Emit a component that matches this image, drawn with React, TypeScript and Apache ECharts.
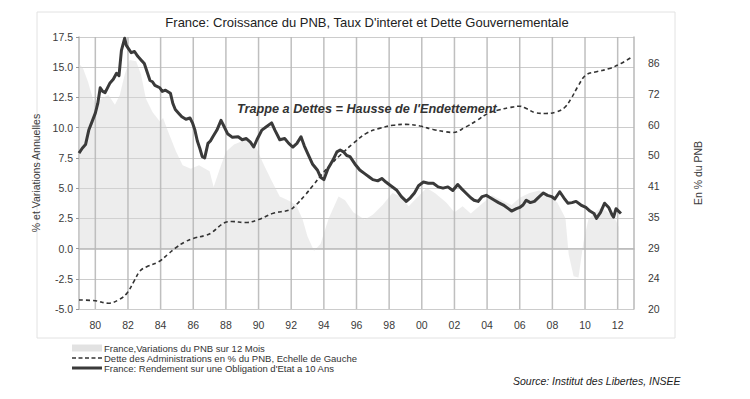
import React, { useEffect, useRef } from 'react';
import * as echarts from 'echarts';

const TITLE = "France: Croissance du PNB, Taux D'interet et Dette Gouvernementale";
const ANNOTATION = "Trappe a Dettes = Hausse de l'Endettement";
const SOURCE = 'Source: Institut des Libertes, INSEE';
const LEFT_NAME = '% et Variations Annuelles';
const RIGHT_NAME = 'En % du PNB';
const GDP_NAME = 'France,Variations du PNB sur 12 Mois';
const DEBT_NAME = 'Dette des Administrations en % du PNB, Echelle de Gauche';
const BOND_NAME = "France: Rendement sur une Obligation d'Etat a 10 Ans";

const xMin = 1979;
const xMax = 2013;
const xGridYears = [1980, 1982, 1984, 1986, 1988, 1990, 1992, 1994, 1996, 1998, 2000, 2002, 2004, 2006, 2008, 2010, 2012];
const leftMin = -5;
const leftMax = 17.5;
const leftStep = 2.5;
const rightTickLabels = [20, 24, 29, 35, 41, 50, 60, 72, 86];

const gdpYears = [1979.0, 1979.25, 1979.55, 1979.85, 1980.05, 1980.35, 1980.8, 1981.2, 1981.5, 1981.8, 1982.1, 1982.5, 1982.8, 1983.1, 1983.5, 1983.95, 1984.15, 1984.45, 1984.95, 1985.35, 1985.85, 1986.35, 1987.0, 1987.25, 1987.6, 1988.0, 1988.5, 1989.2, 1989.8, 1990.3, 1990.8, 1991.3, 1991.8, 1992.3, 1992.7, 1993.0, 1993.4, 1993.8, 1994.3, 1994.9, 1995.3, 1995.8, 1996.5, 1997.0, 1997.6, 1998.2, 1998.7, 1999.2, 1999.7, 2000.3, 2000.8, 2001.5, 2002.0, 2002.5, 2003.0, 2003.6, 2004.3, 2004.9, 2005.5, 2006.0, 2006.6, 2007.2, 2007.8, 2008.3, 2008.8, 2009.0, 2009.3, 2009.6, 2009.9, 2010.2, 2010.6, 2011.0, 2011.5, 2011.9, 2012.05];
const gdpValues = [15.3, 14.9, 13.8, 12.4, 11.9, 12.4, 12.7, 11.9, 12.7, 14.4, 15.6, 15.5, 14.4, 12.4, 11.3, 10.5, 10.8, 9.7, 8.0, 6.9, 6.6, 6.9, 6.4, 5.1, 6.5, 8.0, 8.6, 9.0, 8.5, 7.0, 5.6, 4.3, 4.0, 3.6, 2.4, 1.0, -0.2, 0.4, 2.5, 4.3, 4.0, 3.0, 2.4, 2.8, 3.6, 4.6, 4.3, 3.5, 4.2, 5.0, 4.6, 3.8, 3.0, 3.5, 2.9, 3.6, 4.4, 4.0, 3.6, 4.2, 4.6, 4.8, 4.4, 3.8, 2.5, -0.5, -2.3, -2.4, 0.5, 2.4, 3.0, 3.4, 2.9, 2.3, 1.8];

const bondYears = [1979.0, 1979.2, 1979.4, 1979.6, 1979.8, 1980.0, 1980.15, 1980.3, 1980.45, 1980.6, 1980.9, 1981.1, 1981.3, 1981.45, 1981.6, 1981.8, 1981.9, 1982.0, 1982.2, 1982.4, 1982.6, 1982.8, 1983.0, 1983.2, 1983.35, 1983.5, 1983.65, 1983.95, 1984.1, 1984.3, 1984.6, 1984.75, 1984.9, 1985.1, 1985.3, 1985.55, 1985.8, 1985.95, 1986.1, 1986.25, 1986.4, 1986.55, 1986.7, 1986.9, 1987.05, 1987.2, 1987.45, 1987.7, 1987.85, 1988.1, 1988.4, 1988.75, 1989.0, 1989.25, 1989.5, 1989.7, 1989.9, 1990.2, 1990.5, 1990.8, 1991.0, 1991.3, 1991.6, 1991.85, 1992.1, 1992.35, 1992.6, 1992.8, 1993.0, 1993.3, 1993.6, 1993.8, 1994.0, 1994.25, 1994.55, 1994.8, 1995.0, 1995.2, 1995.4, 1995.6, 1995.9, 1996.2, 1996.5, 1996.8, 1997.0, 1997.3, 1997.55, 1997.8, 1998.1, 1998.45, 1998.75, 1999.05, 1999.3, 1999.55, 1999.8, 2000.1, 2000.4, 2000.7, 2001.0, 2001.3, 2001.6, 2001.9, 2002.2, 2002.4, 2002.7, 2003.0, 2003.2, 2003.45, 2003.7, 2003.95, 2004.2, 2004.45, 2004.7, 2005.0, 2005.3, 2005.5, 2005.8, 2006.0, 2006.2, 2006.4, 2006.65, 2006.9, 2007.2, 2007.45, 2007.7, 2007.95, 2008.15, 2008.45, 2008.7, 2008.95, 2009.2, 2009.45, 2009.75, 2010.05, 2010.3, 2010.55, 2010.7, 2010.95, 2011.2, 2011.45, 2011.65, 2011.75, 2011.9, 2012.05, 2012.2];
const bondValues = [7.9, 8.3, 8.6, 9.8, 10.5, 11.2, 12.0, 13.3, 13.0, 12.9, 13.7, 14.0, 14.5, 14.3, 16.4, 17.4, 16.8, 16.6, 16.2, 16.3, 15.9, 15.6, 15.3, 14.5, 13.9, 13.8, 13.5, 13.3, 13.0, 13.1, 12.85, 12.0, 11.5, 11.2, 10.9, 10.7, 10.8, 10.4, 9.8, 8.9, 8.3, 7.6, 7.5, 8.7, 8.9, 9.25, 9.8, 10.6, 10.2, 9.5, 9.2, 9.25, 9.0, 9.1, 8.8, 8.4, 9.0, 9.8, 10.1, 10.4, 9.8, 9.0, 9.1, 8.7, 8.4, 8.7, 9.25, 8.5, 7.9, 7.0, 6.5, 5.9, 5.7, 6.6, 7.3, 8.0, 8.15, 8.0, 7.7, 7.6, 7.0, 6.5, 6.2, 5.9, 5.7, 5.6, 5.8, 5.5, 5.2, 4.85, 4.3, 3.9, 4.2, 4.6, 5.2, 5.5, 5.4, 5.4, 5.1, 5.0, 5.1, 4.8, 5.3, 5.0, 4.6, 4.2, 4.0, 3.9, 4.3, 4.4, 4.2, 4.0, 3.8, 3.6, 3.3, 3.1, 3.3, 3.4, 3.6, 4.0, 3.8, 3.9, 4.3, 4.6, 4.4, 4.3, 4.1, 4.7, 4.2, 3.75, 3.8, 3.9, 3.6, 3.4, 3.1, 2.9, 2.5, 3.0, 3.75, 3.4, 2.8, 2.6, 3.3, 3.1, 2.9];

const debtYears = [1979.0, 1980.0, 1980.8, 1981.5, 1981.95, 1982.35, 1982.75, 1983.15, 1983.9, 1984.5, 1984.9, 1985.5, 1986.0, 1986.8, 1987.1, 1987.95, 1988.35, 1989.2, 1990.0, 1990.9, 1991.9, 1992.3, 1992.85, 1993.35, 1993.85, 1994.4, 1995.0, 1995.8, 1996.6, 1997.4, 1998.25, 1999.05, 1999.9, 2000.7, 2001.5, 2001.9, 2002.7, 2003.35, 2004.05, 2004.7, 2005.4, 2006.0, 2006.4, 2007.0, 2007.6, 2008.25, 2008.75, 2009.15, 2009.55, 2010.05, 2010.7, 2011.5, 2012.2, 2012.9];
const debtValues = [21.1, 21.0, 20.7, 21.2, 22.0, 23.5, 25.1, 25.7, 26.5, 27.8, 28.7, 29.8, 30.4, 31.0, 31.4, 33.4, 33.6, 33.4, 34.0, 35.3, 36.0, 37.1, 39.3, 41.7, 44.3, 47.0, 49.8, 53.4, 56.7, 58.4, 59.5, 59.8, 59.2, 58.0, 57.2, 57.0, 58.9, 61.1, 63.8, 65.1, 66.1, 66.6, 65.7, 64.0, 63.8, 64.4, 66.1, 69.7, 74.7, 80.1, 81.7, 83.3, 85.8, 89.3];

const FONT = "'Liberation Sans', Arial, sans-serif";
const RIGHT_BASE = rightTickLabels[0];
const RIGHT_RATIO = 1.2;
const toRight = (d: number) => Math.log(d / RIGHT_BASE) / Math.log(RIGHT_RATIO);

// legend icons drawn in a 30x7 box (corner dots fix the box size)
const BOX = 'M0,0h0.01v0.01h-0.01z M30,7h0.01v0.01h-0.01z';
const DASH_ICON = 'path://' + BOX + ' M0,2.8h4v1.5h-4z M6.5,2.8h4v1.5h-4z M13,2.8h4v1.5h-4z M19.5,2.8h4v1.5h-4z M26,2.8h4v1.5h-4z';
const SOLID_ICON = 'path://' + BOX + ' M0,2h30v3h-30z';

export default function App() {
  const ref = useRef<HTMLDivElement>(null);
  useEffect(() => {
    if (!ref.current) return;
    const chart = echarts.init(ref.current, undefined, { renderer: 'svg' });
    const gdp = gdpYears.map((y, i) => [y, gdpValues[i]]);
    const bond = bondYears.map((y, i) => [y, bondValues[i]]);
    const debt = debtYears.map((y, i) => [y, toRight(debtValues[i])]);
    const vgrid = xGridYears.map((y) => [y, leftMin, leftMax]);
    const gridColor = '#cccccc';
    const vGridColor = '#b8b8b8';
    const labelColor = '#3a3a3a';
    chart.setOption({
      animation: false,
      textStyle: { fontFamily: FONT },
      title: {
        text: TITLE,
        left: 362,
        top: 11,
        textAlign: 'center',
        textStyle: { fontFamily: FONT, fontSize: 13, fontWeight: 'normal', color: '#222' },
      },
      grid: { left: 79, right: 116, top: 37, bottom: 90, containLabel: false },
      legend: {
        orient: 'vertical',
        left: 67,
        top: 338,
        itemWidth: 30,
        itemHeight: 7,
        itemGap: 0,
        textStyle: { fontFamily: FONT, fontSize: 9.5, color: '#333', padding: [0, 0, 0, -3] },
        data: [
          { name: GDP_NAME, icon: 'rect' },
          { name: DEBT_NAME, icon: DASH_ICON },
          { name: BOND_NAME, icon: SOLID_ICON },
        ],
      },
      graphic: [
        {
          type: 'rect',
          shape: { x: 37, y: 12, width: 638, height: 326 },
          style: { fill: 'none', stroke: '#e2e2e2', lineWidth: 1 },
          silent: true,
          z: -10,
        },
        {
          type: 'text',
          left: 237,
          top: 102,
          style: {
            text: ANNOTATION,
            font: `italic bold 12.7px ${FONT}`,
            fill: '#333',
          },
          z: 10,
        },
        {
          type: 'text',
          left: 513,
          top: 375,
          style: {
            text: SOURCE,
            font: `italic 10.5px ${FONT}`,
            fill: '#222',
          },
        },
      ],
      xAxis: {
        type: 'value',
        min: xMin,
        max: xMax,
        interval: 1,
        axisLine: { show: true, lineStyle: { color: vGridColor, width: 1.5 } },
        axisTick: { show: false },
        axisLabel: {
          margin: 10,
          fontSize: 10.5,
          color: labelColor,
          fontFamily: FONT,
          formatter: (v: number) => {
            const y = Math.round(v);
            return xGridYears.indexOf(y) >= 0 ? String(y).slice(2) : '';
          },
        },
        splitLine: { show: false },
      },
      yAxis: [
        {
          type: 'value',
          min: leftMin,
          max: leftMax,
          interval: leftStep,
          name: LEFT_NAME,
          nameLocation: 'middle',
          nameGap: 30,
          nameRotate: 90,
          nameTextStyle: { fontFamily: FONT, fontSize: 10.5, color: labelColor },
          axisLine: { show: true, lineStyle: { color: vGridColor, width: 1.5 } },
          axisTick: { show: true, length: 3, lineStyle: { color: '#999' } },
          axisLabel: {
            margin: 6,
            fontSize: 10.5,
            color: labelColor,
            fontFamily: FONT,
            formatter: (v: number) => v.toFixed(1),
          },
          splitLine: { show: true, lineStyle: { color: gridColor, width: 1 } },
        },
        {
          type: 'value',
          min: 0,
          max: 8.85,
          interval: 1,
          position: 'right',
          name: RIGHT_NAME,
          nameLocation: 'middle',
          nameGap: 58,
          nameRotate: 90,
          nameTextStyle: { fontFamily: FONT, fontSize: 10.5, color: labelColor },
          axisLine: { show: true, lineStyle: { color: vGridColor, width: 1.5 } },
          axisTick: { show: false },
          axisLabel: {
            margin: 14,
            fontSize: 10.5,
            color: labelColor,
            fontFamily: FONT,
            formatter: (v: number) => {
              const r = Math.round(v);
              if (Math.abs(v - r) > 1e-6) return '';
              return rightTickLabels[r] !== undefined ? String(rightTickLabels[r]) : '';
            },
          },
          splitLine: { show: false },
        },
      ],
      series: [
        {
          name: GDP_NAME,
          type: 'line',
          yAxisIndex: 0,
          data: gdp,
          symbol: 'none',
          itemStyle: { color: '#e2e2e2' },
          lineStyle: { width: 0, color: '#e8e8e8' },
          areaStyle: { color: '#d6d6d6', opacity: 0.45 },
          z: 1,
        },
        {
          name: 'vgrid',
          type: 'custom',
          silent: true,
          xAxisIndex: 0,
          yAxisIndex: 0,
          data: vgrid,
          encode: { x: 0, y: [1, 2] },
          z: 2,
          renderItem: (params: any, api: any) => {
            const a = api.coord([api.value(0), api.value(1)]);
            const b = api.coord([api.value(0), api.value(2)]);
            return {
              type: 'line',
              shape: { x1: a[0], y1: a[1], x2: a[0], y2: b[1] },
              style: { stroke: vGridColor, lineWidth: 1.5, opacity: 0.9 },
            };
          },
        },
        {
          name: DEBT_NAME,
          type: 'line',
          yAxisIndex: 1,
          data: debt,
          symbol: 'none',
          smooth: 0.4,
          itemStyle: { color: '#333' },
          lineStyle: { color: '#333', width: 1.6, type: [4, 3] },
          z: 3,
        },
        {
          name: BOND_NAME,
          type: 'line',
          yAxisIndex: 0,
          data: bond,
          symbol: 'none',
          itemStyle: { color: '#3a3a3a' },
          lineStyle: { color: '#3a3a3a', width: 3, join: 'round' },
          z: 4,
        },
      ],
    });
    return () => chart.dispose();
  }, []);
  return (
    <div
      ref={ref}
      style={{ position: 'absolute', left: 0, top: 0, width: 750, height: 399, background: '#fff' }}
    />
  );
}
